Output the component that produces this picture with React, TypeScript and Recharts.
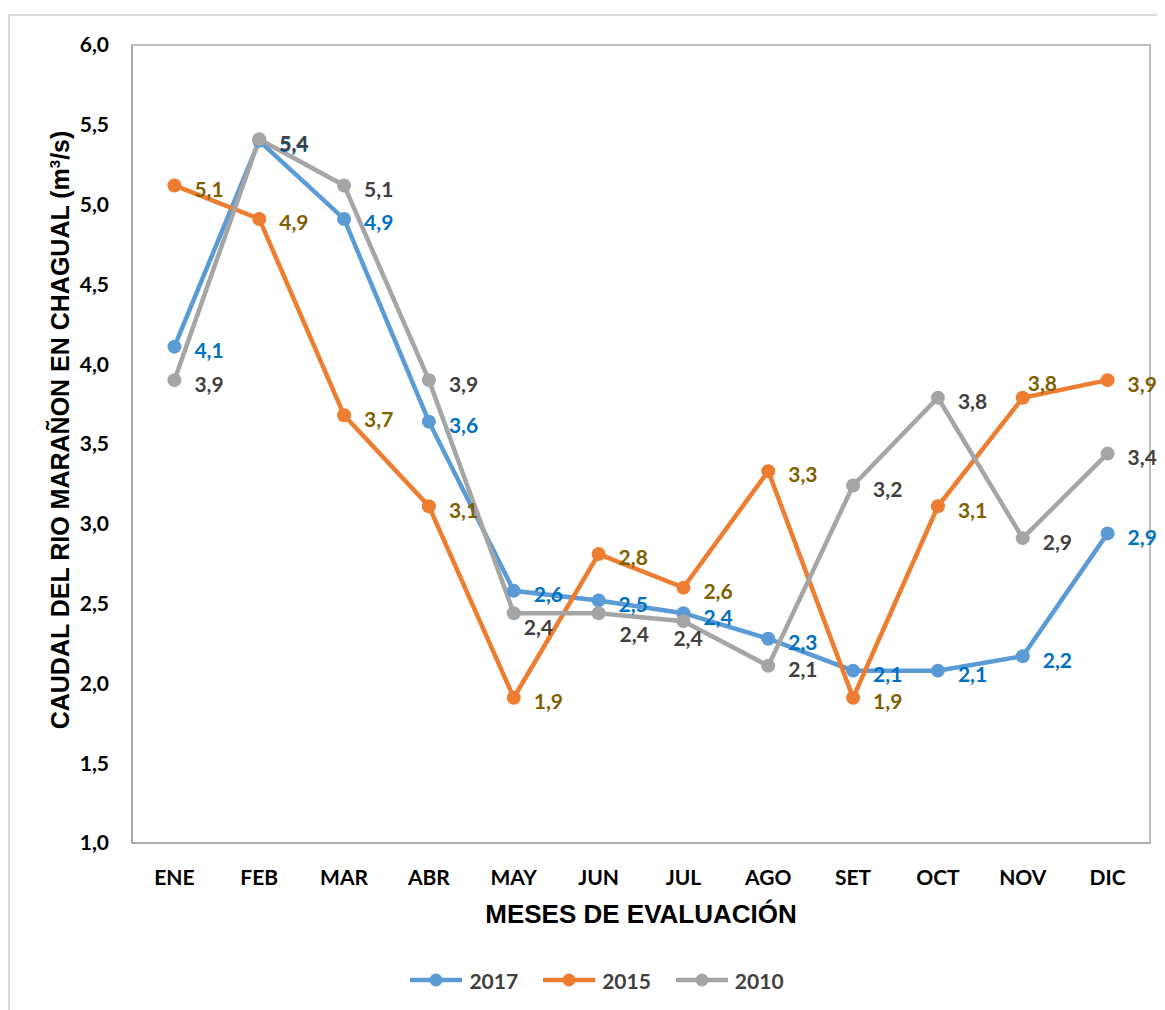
import React from "react";
import {
  LineChart,
  Line,
  XAxis,
  YAxis,
  Legend,
  LabelList,
  ReferenceArea,
} from "recharts";

// Monthly flow of the Marañón river at Chagual (m³/s)
const MESES = ["ENE", "FEB", "MAR", "ABR", "MAY", "JUN", "JUL", "AGO", "SET", "OCT", "NOV", "DIC"];
const CAUDAL_2017 = [4.11, 5.4, 4.91, 3.64, 2.58, 2.52, 2.44, 2.28, 2.08, 2.08, 2.17, 2.94];
const CAUDAL_2015 = [5.12, 4.91, 3.68, 3.11, 1.91, 2.81, 2.6, 3.33, 1.91, 3.11, 3.79, 3.9];
const CAUDAL_2010 = [3.9, 5.41, 5.12, 3.9, 2.44, 2.44, 2.39, 2.11, 3.24, 3.79, 2.91, 3.44];
const Y_TICKS = [1, 1.5, 2, 2.5, 3, 3.5, 4, 4.5, 5, 5.5, 6];

const data = MESES.map((mes, i) => ({
  mes,
  a2017: CAUDAL_2017[i],
  a2015: CAUDAL_2015[i],
  a2010: CAUDAL_2010[i],
}));

const SERIES = [
  { key: "a2017", name: "2017", color: "#5B9BD5", labelColor: "#0070C0" },
  { key: "a2015", name: "2015", color: "#ED7D31", labelColor: "#7F6000" },
  { key: "a2010", name: "2010", color: "#A5A5A5", labelColor: "#404040" },
];

// a few labels are moved off their default spot so they don't collide
const LABEL_NUDGE: { [key: string]: [number, number] } = {
  "a2010-4": [-10, 10],
  "a2010-5": [1, 17],
  "a2010-6": [-30, 13],
  "a2015-10": [-15, -18],
};

const fmt = (v: number) => v.toFixed(1).replace(".", ",");

const LABEL_FONT = "Lato, 'Open Sans', sans-serif";
const TITLE_FONT = "'Liberation Sans', Arial, sans-serif";

function makeLabel(seriesKey: string, color: string) {
  return (props: any) => {
    const { x, y, value, index } = props;
    const [dx, dy] = LABEL_NUDGE[`${seriesKey}-${index}`] || [0, 0];
    return (
      <text
        x={x + 20 + dx}
        y={y + 4 + dy}
        dy="0.35em"
        fill={color}
        fontFamily={LABEL_FONT}
        fontWeight={700}
        fontSize={21}
        textAnchor="start"
      >
        {fmt(value)}
      </text>
    );
  };
}

function LegendContent(props: any) {
  const items = [...(props.payload || [])].sort(
    (a: any, b: any) =>
      SERIES.findIndex((s) => s.name === a.value) - SERIES.findIndex((s) => s.name === b.value)
  );
  return (
    <div
      style={{
        display: "flex",
        justifyContent: "center",
        alignItems: "center",
        height: 30,
        gap: 25,
        paddingLeft: 24,
      }}
    >
      {items.map((p: any) => (
        <div key={p.value} style={{ display: "flex", alignItems: "center" }}>
          <svg width={52} height={16}>
            <line x1={0} y1={8} x2={52} y2={8} stroke={p.color} strokeWidth={4.5} />
            <circle cx={26} cy={8} r={6.5} fill={p.color} />
          </svg>
          <span
            style={{
              marginLeft: 7,
              fontFamily: LABEL_FONT,
              fontWeight: 700,
              fontSize: 21,
              color: "#404040",
            }}
          >
            {p.value}
          </span>
        </div>
      ))}
    </div>
  );
}

function YTitle(props: any) {
  const { viewBox } = props;
  const cx = viewBox.x + viewBox.width - 72;
  const cy = viewBox.y + viewBox.height / 2 - 14;
  return (
    <text
      transform={`translate(${cx},${cy}) rotate(-90)`}
      textAnchor="middle"
      dy="0.35em"
      fontFamily={TITLE_FONT}
      fontWeight={700}
      fontSize={25}
      fill="#000"
    >
      CAUDAL DEL RIO MARAÑON EN CHAGUAL (m
      <tspan dy={-9} fontSize={15}>3</tspan>
      <tspan dy={9}>/s)</tspan>
    </text>
  );
}

function XTitle(props: any) {
  const { viewBox } = props;
  return (
    <text
      x={viewBox.x + viewBox.width / 2}
      y={viewBox.y + 80}
      textAnchor="middle"
      fontFamily={TITLE_FONT}
      fontWeight={700}
      fontSize={26}
      fill="#000"
    >
      MESES DE EVALUACIÓN
    </text>
  );
}

export default function App() {
  return (
    <div
      style={{
        marginTop: 6,
        borderTop: "2px solid #D9D9D9",
        borderLeft: "2px solid #D9D9D9",
        width: 1155,
        height: 994,
      }}
    >
      <LineChart
        width={1155}
        height={992}
        data={data}
        margin={{ top: 29, right: 15, left: 10, bottom: 13 }}
      >
        {/* plot area frame */}
        <ReferenceArea
          y1={1}
          y2={6}
          fill="none"
          stroke="#A6A6A6"
          strokeWidth={1.5}
          ifOverflow="visible"
        />
        <XAxis
          dataKey="mes"
          scale="band"
          height={122}
          interval={0}
          tickLine={false}
          tickSize={0}
          tickMargin={27}
          axisLine={{ stroke: "#A6A6A6", strokeWidth: 1.5 }}
          tick={{ fontFamily: LABEL_FONT, fontWeight: 700, fontSize: 21, fill: "#000" }}
          label={{ content: XTitle }}
        />
        <YAxis
          width={112}
          domain={[1, 6]}
          ticks={Y_TICKS}
          tickFormatter={fmt}
          tickLine={false}
          tickSize={0}
          tickMargin={23}
          axisLine={{ stroke: "#A6A6A6", strokeWidth: 1.5 }}
          tick={{ fontFamily: LABEL_FONT, fontWeight: 700, fontSize: 21, fill: "#000" }}
          label={{ content: YTitle }}
        />
        <Legend verticalAlign="bottom" content={LegendContent} />
        {SERIES.map((s) => (
          <Line
            key={s.key}
            dataKey={s.key}
            name={s.name}
            stroke={s.color}
            strokeWidth={4.5}
            dot={{ r: 7, fill: s.color, stroke: s.color, strokeWidth: 0 }}
            activeDot={false}
            isAnimationActive={false}
          >
            <LabelList dataKey={s.key} content={makeLabel(s.key, s.labelColor)} />
          </Line>
        ))}
      </LineChart>
    </div>
  );
}
